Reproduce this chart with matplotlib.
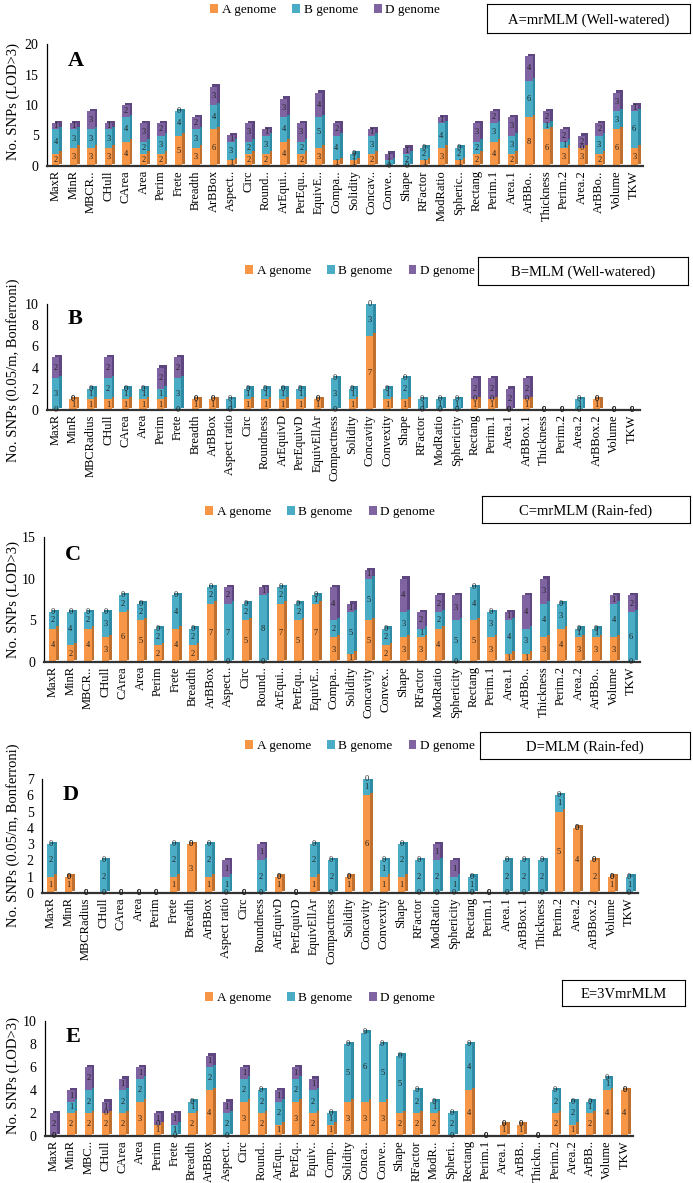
import matplotlib
matplotlib.use("Agg")
import matplotlib.pyplot as plt
import matplotlib.transforms as mtransforms
from matplotlib.patches import Patch

plt.rcParams['font.family'] = ['Liberation Serif', 'DejaVu Serif']

# ---------------- data ----------------
cats_A = ["MaxR", "MinR", "MBCR..", "CHull", "CArea", "Area", "Perim", "Frete", "Breadth", "ArBBox",
          "Aspect..", "Circ", "Round..", "ArEqui..", "PerEqu..", "EquivE..", "Compa..", "Solidity",
          "Concav..", "Conve..", "Shape", "RFactor", "ModRatio", "Spheric..", "Rectang", "Perim.1",
          "Area.1", "ArBBo..", "Thickness", "Perim.2", "Area.2", "ArBBo..", "Volume", "TKW"]
A_a = [2, 3, 3, 3, 4, 2, 2, 5, 3, 6, 1, 2, 2, 4, 2, 3, 1, 1, 2, 0, 0, 1, 3, 1, 2, 4, 2, 8, 6, 3, 3, 2, 6, 3]
A_b = [4, 3, 3, 3, 4, 2, 3, 4, 3, 4, 3, 2, 3, 4, 2, 5, 4, 1, 3, 1, 2, 2, 4, 2, 2, 3, 3, 6, 1, 1, 0, 3, 3, 6]
A_d = [1, 1, 3, 1, 2, 3, 2, 0, 2, 3, 1, 3, 1, 3, 3, 4, 2, 0, 1, 1, 1, 0, 1, 0, 3, 2, 3, 4, 2, 2, 2, 2, 3, 1]

cats_B = ["MaxR", "MinR", "MBCRadius", "CHull", "CArea", "Area", "Perim", "Frete", "Breadth", "ArBBox",
          "Aspect ratio", "Circ", "Roundness", "ArEquivD", "PerEquivD", "EquivEllAr", "Compactness",
          "Solidity", "Concavity", "Convexity", "Shape", "RFactor", "ModRatio", "Sphericity", "Rectang",
          "Perim.1", "Area.1", "ArBBox.1", "Thickness", "Perim.2", "Area.2", "ArBBox.2", "Volume", "TKW"]
B_a = [0, 1, 1, 1, 1, 1, 1, 0, 1, 1, 0, 1, 1, 1, 1, 1, 0, 1, 7, 1, 1, 0, 0, 0, 1, 1, 0, 1, 0, 0, 0, 1, 0, 0]
B_b = [3, 0, 1, 2, 1, 1, 1, 3, 0, 0, 1, 1, 1, 1, 1, 0, 3, 1, 3, 1, 2, 1, 1, 1, 0, 0, 0, 0, 0, 0, 1, 0, 0, 0]
B_d = [2, 0, 0, 2, 0, 0, 2, 2, 0, 0, 0, 0, 0, 0, 0, 0, 0, 0, 0, 0, 0, 0, 0, 0, 2, 2, 2, 2, 0, 0, 0, 0, 0, 0]

cats_C = ["MaxR", "MinR", "MBCR..", "CHull", "CArea", "Area", "Perim", "Frete", "Breadth", "ArBBox",
          "Aspect..", "Circ", "Round..", "ArEqui..", "PerEqu..", "EquivE..", "Compa..", "Solidity",
          "Concavity", "Convex..", "Shape", "RFactor", "ModRatio", "Sphericity", "Rectang", "Perim.1",
          "Area.1", "ArBBo..", "Thickness", "Perim.2", "Area.2", "ArBBo..", "Volume", "TKW"]
C_a = [4, 2, 4, 3, 6, 5, 2, 4, 2, 7, 0, 5, 0, 7, 5, 7, 3, 1, 5, 2, 3, 3, 4, 0, 5, 3, 1, 1, 3, 4, 3, 3, 3, 0]
C_b = [2, 4, 2, 3, 2, 2, 2, 4, 2, 2, 7, 2, 8, 2, 2, 1, 2, 5, 5, 2, 3, 1, 2, 5, 4, 3, 4, 3, 4, 3, 1, 1, 4, 6]
C_d = [0, 0, 0, 0, 0, 0, 0, 0, 0, 0, 2, 0, 1, 0, 0, 0, 4, 1, 1, 0, 4, 2, 2, 3, 0, 0, 1, 4, 3, 0, 0, 0, 1, 2]

cats_D = cats_B
D_a = [1, 1, 0, 0, 0, 0, 0, 1, 3, 1, 0, 0, 0, 1, 0, 1, 0, 1, 6, 1, 1, 0, 0, 0, 0, 0, 0, 0, 0, 5, 4, 2, 1, 0]
D_b = [2, 0, 0, 2, 0, 0, 0, 2, 0, 2, 1, 0, 2, 0, 0, 2, 2, 0, 1, 1, 2, 2, 2, 1, 1, 0, 2, 2, 2, 1, 0, 0, 0, 1]
D_d = [0, 0, 0, 0, 0, 0, 0, 0, 0, 0, 1, 0, 1, 0, 0, 0, 0, 0, 0, 0, 0, 0, 1, 1, 0, 0, 0, 0, 0, 0, 0, 0, 0, 0]

cats_E = ["MaxR", "MinR", "MBC..", "CHull", "CArea", "Area", "Perim", "Frete", "Breadth", "ArBBox",
          "Aspect..", "Circ", "Round..", "ArEqu..", "PerEq..", "Equiv..", "Comp..", "Solidity",
          "Conca..", "Conve..", "Shape", "RFactor", "ModR..", "Spheri..", "Rectang", "Perim.1",
          "Area.1", "ArBB..", "Thickn..", "Perim.2", "Area.2", "ArBB..", "Volume", "TKW"]
E_a = [0, 2, 2, 2, 2, 3, 1, 0, 2, 4, 0, 3, 2, 1, 3, 2, 1, 3, 3, 3, 2, 2, 2, 0, 4, 0, 1, 1, 0, 2, 1, 2, 4, 4]
E_b = [0, 1, 2, 0, 2, 2, 0, 1, 1, 2, 2, 2, 2, 2, 2, 2, 1, 5, 6, 5, 5, 2, 1, 2, 4, 0, 0, 0, 0, 2, 2, 1, 1, 0]
E_d = [2, 1, 2, 1, 1, 1, 1, 1, 0, 1, 1, 1, 0, 1, 1, 1, 0, 0, 0, 0, 0, 0, 0, 0, 0, 0, 0, 0, 0, 0, 0, 0, 0, 0]

genomes = ["A genome", "B genome", "D genome"]
face = ["#F79646", "#4BACC6", "#8064A2"]
side = ["#C0702E", "#2F8AA3", "#5E4780"]

W, H = 693, 1183
fig = plt.figure(figsize=(W / 100, H / 100), dpi=100)


def px_axes(left, right, top, bottom):
    return fig.add_axes([left / W, 1 - bottom / H, (right - left) / W, (bottom - top) / H])


def draw_panel(ax, cats, vals, ymax, ystep, letter):
    x = list(range(len(cats)))
    bw = 0.42
    off = mtransforms.offset_copy(ax.transData, fig=fig, x=2.6, y=2.4, units='dots')
    bottoms = [0] * len(cats)
    for k, v in enumerate(vals):
        ax.bar(x, v, bw, bottom=bottoms, color=side[k], transform=off, zorder=1, linewidth=0)
        ax.bar(x, v, bw, bottom=bottoms, color=face[k], zorder=2, linewidth=0)
        for i in x:
            ax.text(i, bottoms[i] + v[i] / 2, str(v[i]), ha='center', va='center',
                    fontsize=6, color='#222222', zorder=5)
        bottoms = [b + vi for b, vi in zip(bottoms, v)]
    ax.set_xlim(-0.5, len(cats) - 0.5)
    ax.set_ylim(0, ymax)
    ax.set_yticks(range(0, ymax + 1, ystep))
    ax.set_xticks(x)
    ax.set_xticklabels(cats, rotation=90, fontsize=9)
    ax.tick_params(axis='both', length=0, pad=3)
    ax.tick_params(axis='y', labelsize=10, pad=6)
    for s in ['top', 'right']:
        ax.spines[s].set_visible(False)
    ax.spines['left'].set_linewidth(0.9)
    ax.spines['bottom'].set_linewidth(1.6)
    ax.spines['bottom'].set_color('#333333')
    ax.patch.set_alpha(0)
    ax.text(0.035, 0.86, letter, transform=ax.transAxes, fontsize=16, fontweight='bold',
            ha='left', va='center')


def legend_at(xc, yc):
    handles = [Patch(facecolor=c, edgecolor='none') for c in face]
    fig.legend(handles, genomes, loc='center', bbox_to_anchor=(xc / W, 1 - yc / H), ncol=3,
               frameon=False, fontsize=9.5, handlelength=0.6, handleheight=0.6,
               handletextpad=0.3, columnspacing=1.2, borderpad=0)


def box_at(x0, x1, y0, y1, text):
    ax = fig.add_axes([x0 / W, 1 - y1 / H, (x1 - x0) / W, (y1 - y0) / H])
    ax.set_xticks([])
    ax.set_yticks([])
    for s in ax.spines.values():
        s.set_linewidth(0.8)
    ax.text(0.5, 0.45, text, ha='center', va='center', fontsize=10.5, transform=ax.transAxes)


axA = px_axes(47, 643, 44, 166)
draw_panel(axA, cats_A, [A_a, A_b, A_d], 20, 5, "A")
axB = px_axes(47, 640, 304, 410)
draw_panel(axB, cats_B, [B_a, B_b, B_d], 10, 2, "B")
axC = px_axes(44, 640, 537, 662)
draw_panel(axC, cats_C, [C_a, C_b, C_d], 15, 5, "C")
axD = px_axes(42, 638, 779, 893)
draw_panel(axD, cats_D, [D_a, D_b, D_d], 7, 1, "D")
axE = px_axes(45, 633, 1021, 1136)
draw_panel(axE, cats_E, [E_a, E_b, E_d], 10, 2, "E")

fig.text(13 / W, 1 - 102 / H, "No. SNPs (LOD>3)", rotation=90, ha='center', va='center', fontsize=10.5)
fig.text(13 / W, 1 - 370 / H, "No. SNPs (0.05/m, Bonferroni)", rotation=90, ha='center', va='center', fontsize=10.5)
fig.text(13 / W, 1 - 600 / H, "No. SNPs (LOD>3)", rotation=90, ha='center', va='center', fontsize=10.5)
fig.text(13 / W, 1 - 835 / H, "No. SNPs (0.05/m, Bonferroni)", rotation=90, ha='center', va='center', fontsize=10.5)
fig.text(13 / W, 1 - 1075 / H, "No. SNPs (LOD>3)", rotation=90, ha='center', va='center', fontsize=10.5)

legend_at(325, 10)
box_at(487, 690, 4, 33, "A=mrMLM (Well-watered)")
legend_at(360, 271)
box_at(478, 688, 257, 285, "B=MLM (Well-watered)")
legend_at(320, 512)
box_at(482, 690, 496, 523, "C=mrMLM (Rain-fed)")
legend_at(360, 746)
box_at(480, 690, 732, 759, "D=MLM (Rain-fed)")
legend_at(320, 998)
box_at(562, 685, 980, 1006, "E=3VmrMLM")

fig.savefig("out.png", dpi=100)
